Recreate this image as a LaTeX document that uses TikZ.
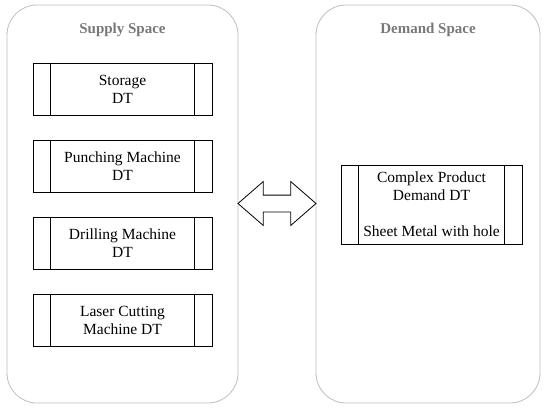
\documentclass[tikz,border=0pt]{standalone}
\usepackage{fontspec}
\setmainfont{Liberation Serif}
\usetikzlibrary{shapes.arrows}

\definecolor{spacegray}{RGB}{190,190,190}
\definecolor{titlegray}{RGB}{120,120,120}

\begin{document}
\begin{tikzpicture}[x=1pt,y=-1pt]
        \useasboundingbox (0,0) rectangle (545,407);
        \begin{scope}[every node/.style={inner sep=0, font=\fontsize{15.5}{18}\selectfont},
                space/.style={draw=spacegray, thick, rounded corners=30pt, minimum width=231pt, minimum height=398pt},
                dtbox/.style={draw, thick, minimum width=179pt, minimum height=52pt, align=center},
                title/.style={text=titlegray, font=\fontsize{15}{17}\selectfont\bfseries}]
                \node[space] (Supply) at (122.5,204) {};
                \node[space, minimum width=224pt] (Demand) at (428,204) {};
                \node[title] (SupplyT) at (122.5,30) {Supply Space};
                \node[title] (DemandT) at (428,30) {Demand Space};

                \node[dtbox] (Storage) at (122.5,89) {Storage\\DT};
                \node[dtbox] (Punching) at (122.5,166) {Punching Machine\\DT};
                \node[dtbox] (Drilling) at (122.5,243) {Drilling Machine\\DT};
                \node[dtbox] (Laser) at (122.5,320) {Laser Cutting\\Machine DT};
                \node[dtbox, minimum width=181pt, minimum height=79pt] (Product) at (431.5,204.5) {Complex Product\\Demand DT\\[18pt]Sheet Metal with hole};

                \node[double arrow, draw, line width=0.8pt, inner xsep=0pt, inner ysep=8pt, minimum height=78pt, minimum width=43pt,
                        double arrow head extend=13.5pt, double arrow tip angle=82] (Link) at (277,203.5) {};
        \end{scope}
        % side bars of the DT boxes
        \foreach \n in {Storage,Punching,Drilling,Laser,Product} {
                \draw[thick] ([xshift=18pt]\n.north west) -- ([xshift=18pt]\n.south west);
                \draw[thick] ([xshift=-18pt]\n.north east) -- ([xshift=-18pt]\n.south east);
        }
\end{tikzpicture}
\end{document}
